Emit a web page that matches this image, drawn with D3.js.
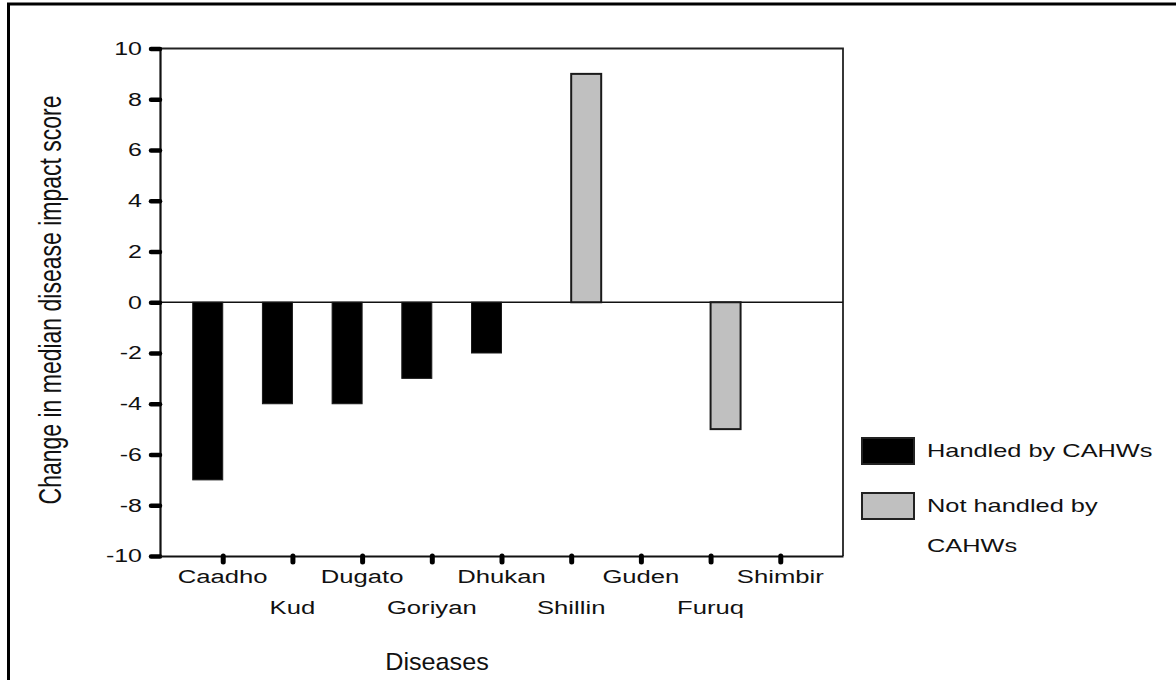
<!DOCTYPE html>
<html>
<head>
<meta charset="utf-8">
<script src="https://cdn.jsdelivr.net/npm/d3@7"></script>
<style>
  body { margin: 0; background: #fff; }
  svg text { font-family: "Liberation Sans", Arial, sans-serif; fill: #111; }
</style>
</head>
<body>
<script>
'use strict';

// chart values
const diseases = ["Caadho", "Kud", "Dugato", "Goriyan", "Dhukan", "Shillin", "Guden", "Furuq", "Shimbir"];
const handled = [-7, -4, -4, -3, -2, null, null, null, null];
const notHandled = [null, null, null, null, null, 9, null, -5, null];
const yTicks = [-10, -8, -6, -4, -2, 0, 2, 4, 6, 8, 10];
const seriesKeys = ["handled", "notHandled"];
const legendLabels = [["Handled by CAHWs"], ["Not handled by", "CAHWs"]];

const fills = { handled: "#000000", notHandled: "#c0c0c0" };
const stretch = 1.35;

(function () {
  const svg = d3.select("body").append("svg")
    .attr("width", 1176)
    .attr("height", 680);

  // outer frame (runs off the right/bottom edge like the scan)
  svg.append("rect")
    .attr("x", 8.5).attr("y", 4)
    .attr("width", 1300).attr("height", 800)
    .attr("fill", "none")
    .attr("stroke", "#000")
    .attr("stroke-width", 3);

  const left = 160, right = 843, top = 48.5, bottom = 556;

  const yScale = d3.scaleLinear().domain([-10, 10]).range([bottom, top]);
  const xScale = d3.scalePoint().domain(diseases).range([left, right]).padding(0.9);
  const xInner = d3.scaleBand().domain(seriesKeys).range([-30, 30]);

  // plot box top and right
  svg.append("path")
    .attr("d", `M${left},${top}H${right}V${bottom}`)
    .attr("fill", "none")
    .attr("stroke", "#222")
    .attr("stroke-width", 1.8);

  // zero line
  svg.append("line")
    .attr("x1", left).attr("x2", right)
    .attr("y1", yScale(0)).attr("y2", yScale(0))
    .attr("stroke", "#111")
    .attr("stroke-width", 1.5);

  // bars
  const rows = diseases.map((d, i) => ({ name: d, handled: handled[i], notHandled: notHandled[i] }));
  const groups = svg.selectAll(".grp")
    .data(rows)
    .enter()
    .append("g")
    .attr("transform", d => `translate(${xScale(d.name)},0)`);

  groups.selectAll("rect")
    .data(d => seriesKeys.filter(k => d[k] != null).map(k => ({ key: k, value: d[k] })))
    .enter()
    .append("rect")
    .attr("x", d => xInner(d.key))
    .attr("width", xInner.bandwidth())
    .attr("y", d => yScale(Math.max(0, d.value)))
    .attr("height", d => Math.abs(yScale(d.value) - yScale(0)))
    .attr("fill", d => fills[d.key])
    .attr("stroke", "#1a1a1a")
    .attr("stroke-width", d => d.key == "notHandled" ? 2 : 1);

  // y axis
  const yAxis = d3.axisLeft(yScale).tickValues(yTicks).tickSize(9).tickFormat(d => String(d));
  svg.append("g")
    .attr("transform", `translate(${left},0)`)
    .call(yAxis)
    .call(g => g.select(".domain").attr("stroke", "#111").attr("stroke-width", 2.2))
    .call(g => g.selectAll(".tick line").attr("stroke", "#000").attr("stroke-width", 4.5).attr("stroke-linecap", "round"))
    .call(g => g.selectAll(".tick text")
      .attr("x", 0)
      .attr("font-size", 18.5)
      .attr("fill", "#111")
      .attr("transform", `translate(-18,0) scale(${stretch},1)`));

  // x axis
  const xAxis = d3.axisBottom(xScale).tickSize(6).tickSizeOuter(0).tickFormat("");
  svg.append("g")
    .attr("transform", `translate(0,${bottom})`)
    .call(xAxis)
    .call(g => g.select(".domain").attr("stroke", "#111").attr("stroke-width", 2.2))
    .call(g => g.selectAll(".tick line").attr("stroke", "#000").attr("stroke-width", 5).attr("stroke-linecap", "round"));

  svg.selectAll(".xlab")
    .data(diseases)
    .enter()
    .append("text")
    .attr("transform", (d, i) => `translate(${xScale(d)},${bottom + (i % 2 == 0 ? 20 : 51)}) scale(${stretch},1)`)
    .attr("dy", "0.35em")
    .attr("text-anchor", "middle")
    .attr("font-size", 19)
    .text(d => d);

  // axis titles
  svg.append("text")
    .attr("transform", `translate(437,662) scale(1.05,1)`)
    .attr("dy", "0.35em")
    .attr("text-anchor", "middle")
    .attr("font-size", 24)
    .text("Diseases");

  svg.append("text")
    .attr("transform", `translate(50,300) scale(${stretch},1) rotate(-90)`)
    .attr("dy", "0.35em")
    .attr("text-anchor", "middle")
    .attr("font-size", 23)
    .text("Change in median disease impact score");

  // legend
  const legend = svg.append("g").attr("transform", "translate(862,438)");
  const item = legend.selectAll(".item")
    .data(seriesKeys)
    .enter()
    .append("g")
    .attr("transform", (d, i) => `translate(0,${i * 55})`);

  item.append("rect")
    .attr("width", 52).attr("height", 26)
    .attr("fill", d => fills[d])
    .attr("stroke", "#222")
    .attr("stroke-width", 2);

  item.each(function (d, i) {
    d3.select(this).selectAll("text")
      .data(legendLabels[i])
      .enter()
      .append("text")
      .attr("transform", (t, j) => `translate(65,${13 + j * 40}) scale(1.45,1)`)
      .attr("dy", "0.35em")
      .attr("font-size", 17.5)
      .text(t => t);
  });
})();
</script>
</body>
</html>
